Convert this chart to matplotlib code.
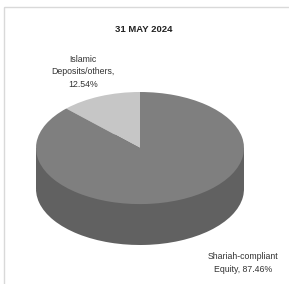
import matplotlib.pyplot as plt
from matplotlib.patches import Rectangle

labels = ['Islamic\nDeposits/others,\n12.54%', 'Shariah-compliant\nEquity, 87.46%']
values = [12.54, 87.46]
top_colors = ['#c6c6c6', '#7f7f7f']
side_colors = ['#616161', '#616161']
title = '31 MAY 2024'

plt.rcParams['font.family'] = ['Liberation Sans Narrow', 'Liberation Sans', 'DejaVu Sans']

W, H = 289, 284
fig = plt.figure(figsize=(W / 100, H / 100), dpi=100)
fig.patch.set_facecolor('white')

# light frame around the chart area
bg = fig.add_axes([0, 0, 1, 1])
bg.set_xlim(0, W)
bg.set_ylim(H, 0)
bg.axis('off')
bg.add_patch(Rectangle((4, 7), W + 10, H + 10, fill=False, edgecolor='#d9d9d9', lw=1))
bg.text(144, 29, title, ha='center', va='center', fontsize=6.8, fontweight='bold', color='#222222')
bg.text(83, 72, labels[0], ha='center', va='center', fontsize=6.3, color='#333333', linespacing=1.55)
bg.text(243, 263, labels[1], ha='center', va='center', fontsize=6.3, color='#333333', linespacing=1.55)

# pie axes: x from 36 to 244 px, y from 92 to 245 px
depth = 0.73
left, right, top, bottom = 36, 244, 92, 245
ax = fig.add_axes([left / W, (H - bottom) / H, (right - left) / W, (bottom - top) / H])

# side of the cylinder
ax.pie(values, colors=side_colors, startangle=90, counterclock=True,
       center=(0, -depth), radius=1, wedgeprops={'linewidth': 0})
ax.add_patch(Rectangle((-1, -depth), 2, depth, facecolor=side_colors[1], edgecolor='none'))
# top face
ax.pie(values, colors=top_colors, startangle=90, counterclock=True,
       radius=1, wedgeprops={'linewidth': 0})
ax.set_aspect('auto')
ax.set_xlim(-1, 1)
ax.set_ylim(-1 - depth, 1)
ax.axis('off')

fig.savefig('out.png', dpi=100, facecolor='white')
